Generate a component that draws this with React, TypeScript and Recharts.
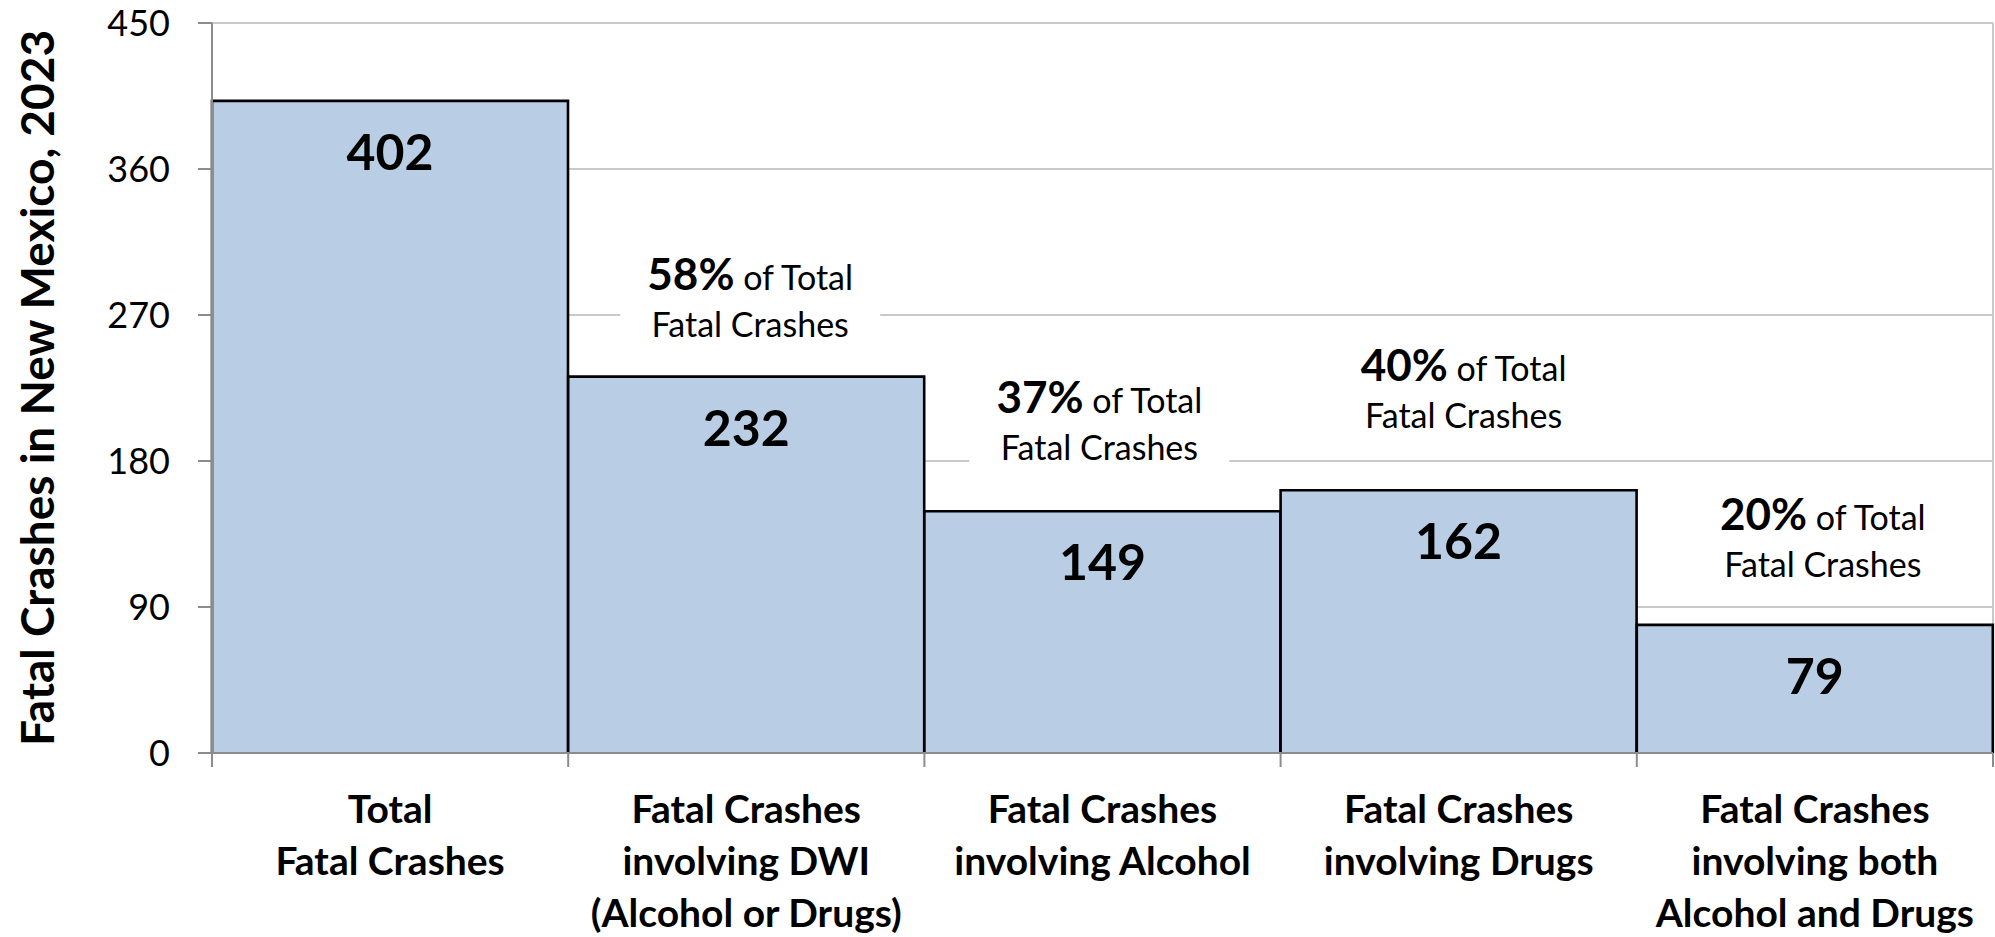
import { BarChart, Bar, XAxis, YAxis, CartesianGrid, LabelList } from "recharts";

// values
const categories = [
  "Total Fatal Crashes",
  "Fatal Crashes involving DWI (Alcohol or Drugs)",
  "Fatal Crashes involving Alcohol",
  "Fatal Crashes involving Drugs",
  "Fatal Crashes involving both Alcohol and Drugs",
];
const categoryLines = [
  ["Total", "Fatal Crashes"],
  ["Fatal Crashes", "involving DWI", "(Alcohol or Drugs)"],
  ["Fatal Crashes", "involving Alcohol"],
  ["Fatal Crashes", "involving Drugs"],
  ["Fatal Crashes", "involving both", "Alcohol and Drugs"],
];
const crashCounts = [402, 232, 149, 162, 79];
const shareOfTotal: (number | null)[] = [null, 58, 37, 40, 20];
const yTicks = [0, 90, 180, 270, 360, 450];

const data = categories.map((name, i) => ({
  name,
  count: crashCounts[i],
  share: shareOfTotal[i],
}));

// layout
const W = 1995;
const H = 937;
const X_AXIS_H = 184;
const MARGIN = { top: 23, right: 2, bottom: 0, left: 0 };
const Y_AXIS_W = 212;
const BAND = (W - MARGIN.right - Y_AXIS_W) / categories.length;
const FONT = "Lato, 'Open Sans', sans-serif";
const AXIS_GRAY = "#8c8c8c";
const GRID_GRAY = "#c9c9c9";
const BAR_FILL = "#b9cde5";

// hand placed annotations (px above bar top for 2nd line baseline, x nudge)
const noteLift = [0, 40, 51, 62, 48];
const noteShift = [0, 4, -3, 5, 8];

function BarShape(props: any) {
  const { x, y, width, height } = props;
  if (!height) return null;
  return (
    <g>
      <rect x={x} y={y} width={width} height={height} fill={BAR_FILL} />
      <path
        d={`M${x},${y + height} L${x},${y} L${x + width},${y} L${x + width},${y + height}`}
        fill="none"
        stroke="#000"
        strokeWidth={2.6}
      />
    </g>
  );
}

function CountLabel(props: any) {
  const x = Number(props.x);
  const y = Number(props.y);
  const w = Number(props.width);
  return (
    <text
      x={x + w / 2}
      y={y + 69}
      textAnchor="middle"
      fontFamily={FONT}
      fontWeight={700}
      fontSize={50}
      fill="#000"
    >
      {props.value}
    </text>
  );
}

function ShareNote(props: any) {
  const { value } = props;
  if (value === null || value === undefined) return null;
  const i = props.index ?? shareOfTotal.indexOf(value);
  const cx = Number(props.x) + Number(props.width) / 2 + noteShift[i];
  const base2 = Number(props.y) - noteLift[i];
  const base1 = base2 - 47;
  return (
    <g>
      <rect x={cx - 130} y={base1 - 42} width={260} height={base2 + 12 - (base1 - 42)} fill="#fff" />
      <text x={cx} y={base1} textAnchor="middle" fontFamily={FONT} fill="#000">
        <tspan fontWeight={700} fontSize={44}>{`${value}%`}</tspan>
        <tspan fontSize={34}> of Total</tspan>
      </text>
      <text x={cx} y={base2} textAnchor="middle" fontFamily={FONT} fontSize={34} fill="#000">
        Fatal Crashes
      </text>
    </g>
  );
}

function CategoryTick(props: any) {
  const x = Number(props.x);
  const y = Number(props.y);
  const idx = props.index ?? props.payload?.index ?? 0;
  const lines = categoryLines[idx] || [];
  const left = x - BAND / 2;
  const right = x + BAND / 2;
  return (
    <g>
      <line x1={left} x2={left} y1={y} y2={y + 14} stroke={AXIS_GRAY} strokeWidth={2} />
      {idx === categories.length - 1 && (
        <line x1={right} x2={right} y1={y} y2={y + 14} stroke={AXIS_GRAY} strokeWidth={2} />
      )}
      <text textAnchor="middle" fontFamily={FONT} fontWeight={700} fontSize={39} fill="#000">
        {lines.map((l, k) => (
          <tspan key={k} x={x} y={y + 70 + k * 52}>
            {l}
          </tspan>
        ))}
      </text>
    </g>
  );
}

function YTitle(props: any) {
  const vb = props.viewBox || {};
  const cy = (vb.y ?? MARGIN.top) + (vb.height ?? 730) / 2;
  const bx = 54;
  return (
    <text
      x={bx}
      y={cy}
      transform={`rotate(-90, ${bx}, ${cy})`}
      textAnchor="middle"
      fontFamily={FONT}
      fontWeight={700}
      fontSize={46}
      fill="#000"
    >
      Fatal Crashes in New Mexico, 2023
    </text>
  );
}

export default function App() {
  return (
    <div style={{ position: "absolute", left: 0, top: 0, width: W, height: H, background: "#fff" }}>
      <BarChart width={W} height={H} data={data} margin={MARGIN} barCategoryGap={0} barGap={0}>
        <CartesianGrid
          stroke={GRID_GRAY}
          strokeWidth={2}
          vertical={true}
          verticalCoordinatesGenerator={({ offset }: any) => [offset.left + offset.width]}
        />
        <XAxis
          dataKey="name"
          interval={0}
          tickSize={0}
          tickMargin={0}
          tickLine={false}
          axisLine={{ stroke: AXIS_GRAY, strokeWidth: 2 }}
          tick={<CategoryTick />}
          height={X_AXIS_H}
        />
        <YAxis
          width={Y_AXIS_W}
          domain={[0, 450]}
          ticks={yTicks}
          interval={0}
          tickSize={14}
          tickMargin={28}
          axisLine={{ stroke: AXIS_GRAY, strokeWidth: 2 }}
          tickLine={{ stroke: AXIS_GRAY, strokeWidth: 2 }}
          tick={{ fill: "#000", fontSize: 36, fontFamily: FONT }}
          label={<YTitle />}
        />
        <Bar dataKey="count" shape={<BarShape />} isAnimationActive={false}>
          <LabelList dataKey="count" content={<CountLabel />} />
          <LabelList dataKey="share" content={<ShareNote />} />
        </Bar>
      </BarChart>
    </div>
  );
}
